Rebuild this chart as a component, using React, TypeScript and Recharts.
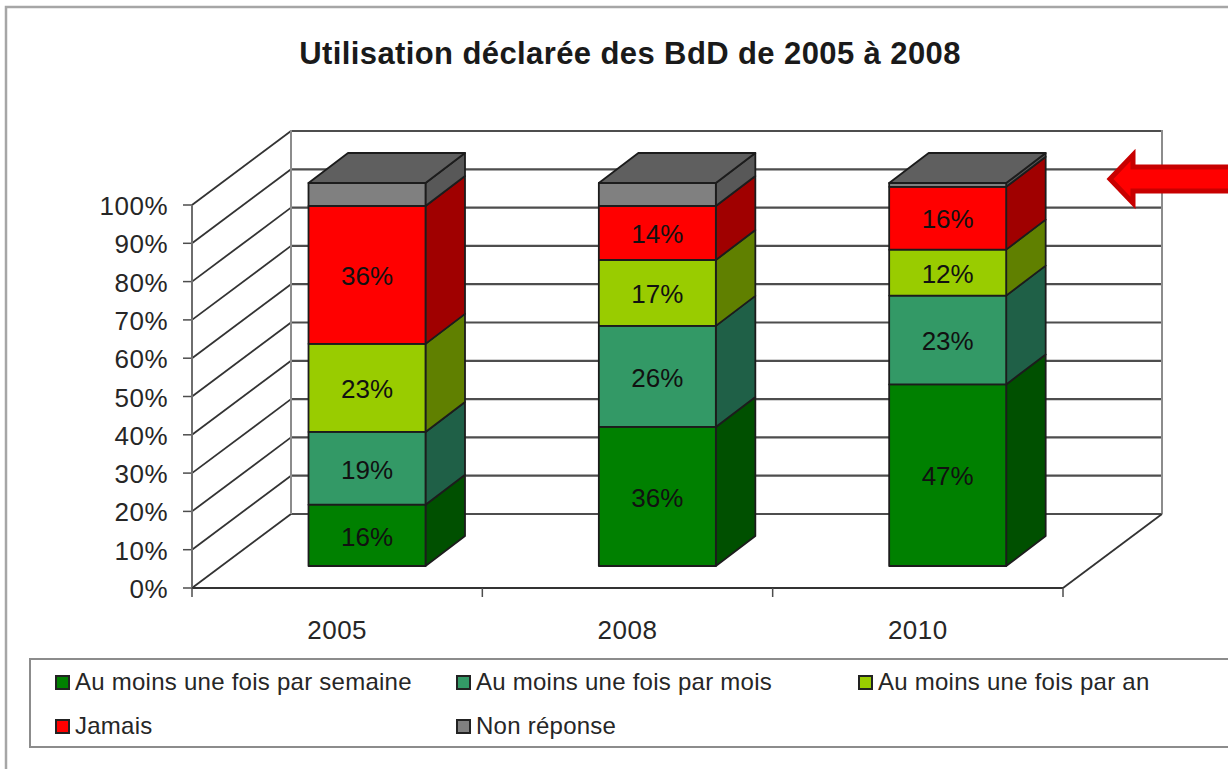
import { BarChart, Bar, XAxis, YAxis, CartesianGrid, Legend, LabelList } from 'recharts';

const years = ['2005', '2008', '2010'];
const weekly = [16, 36.3, 47.4];
const monthly = [19, 26.4, 23.2];
const yearly = [23, 17.2, 12];
const never = [36, 14.1, 16.4];
const noAnswer = [6, 6, 1];
const yTicks = [0, 10, 20, 30, 40, 50, 60, 70, 80, 90, 100];

const chartData = years.map((year, i) => ({
  year,
  weekly: weekly[i],
  monthly: monthly[i],
  yearly: yearly[i],
  never: never[i],
  noAnswer: noAnswer[i],
}));

const FONT = '"Liberation Sans", Arial, sans-serif';
const TEXT = '#262626';
const LINE = '#4d4d4d';

// the plot area is fitted to the bars; the axes and walls sit in front of / behind them
const AXIS_DX = -29.5;
const AXIS_DY = 22;
const WALL_DX = 99;
const WALL_DY = -74;
const BAR_DX = 39.5;
const BAR_DY = -30;
const BAND = 871 / 3;

function Block({ x, y, width, height, fill, side, top }: any) {
  const r = x + width;
  return (
    <g stroke="#1c1c1c" strokeWidth={1.8} strokeLinejoin="round">
      <path
        d={`M${r},${y} L${r + BAR_DX},${y + BAR_DY} L${r + BAR_DX},${y + height + BAR_DY} L${r},${y + height} Z`}
        fill={side}
      />
      {top && (
        <path
          d={`M${x},${y} L${x + BAR_DX},${y + BAR_DY} L${r + BAR_DX},${y + BAR_DY} L${r},${y} Z`}
          fill={top}
        />
      )}
      <rect x={x} y={y} width={width} height={height} fill={fill} />
    </g>
  );
}

function GridLine({ x1, y1, x2 }: any) {
  const left = x1 + AXIS_DX;
  const right = x2 + AXIS_DX;
  const y = y1 + AXIS_DY;
  return (
    <g fill="none">
      <line x1={left} y1={y} x2={left + WALL_DX} y2={y + WALL_DY} stroke="#333" strokeWidth={1.8} />
      <line x1={left + WALL_DX} y1={y + WALL_DY} x2={right + WALL_DX} y2={y + WALL_DY} stroke={LINE} strokeWidth={2.2} />
      <line x1={left - 9} y1={y} x2={left} y2={y} stroke={LINE} strokeWidth={1.5} />
    </g>
  );
}

function YTick({ y, payload }: any) {
  return (
    <text x={168} y={y + AXIS_DY + 10} textAnchor="end" fontSize={26} letterSpacing={0.5} fontFamily={FONT} fill={TEXT}>
      {payload.value}%
    </text>
  );
}

function XTick({ x, payload, index }: any) {
  const cx = x + AXIS_DX;
  const base = 588;
  return (
    <g>
      <line x1={cx - BAND / 2} y1={base} x2={cx - BAND / 2} y2={base + 9} stroke={LINE} strokeWidth={1.5} />
      {index === years.length - 1 && (
        <line x1={cx + BAND / 2} y1={base} x2={cx + BAND / 2} y2={base + 9} stroke={LINE} strokeWidth={1.5} />
      )}
      <text x={cx} y={639} textAnchor="middle" fontSize={26} letterSpacing={0.5} fontFamily={FONT} fill={TEXT}>
        {payload.value}
      </text>
    </g>
  );
}

function Walls() {
  return (
    <g fill="none">
      <path d="M6,770 V7 H1230" stroke="#a6a6a6" strokeWidth={2.5} />
      <line x1={291} y1={130} x2={291} y2={514} stroke="#8c8c8c" strokeWidth={2} />
      <line x1={1162} y1={130} x2={1162} y2={514} stroke="#8c8c8c" strokeWidth={2} />
      <line x1={192} y1={205} x2={192} y2={588} stroke="#6e6e6e" strokeWidth={2} />
      <line x1={192} y1={588} x2={1063} y2={588} stroke="#333" strokeWidth={2.2} />
      <line x1={1063} y1={588} x2={1162} y2={514} stroke="#333" strokeWidth={1.8} />
      <text x={630} y={64} textAnchor="middle" fontSize={31} letterSpacing={0.4} fontWeight="bold" fontFamily={FONT} fill="#1a1a1a">
        Utilisation déclarée des BdD de 2005 à 2008
      </text>
      <path
        d="M1110,179 L1133,155 L1133,167 L1234,167 L1234,191 L1133,191 L1133,203 Z"
        fill="#ff0000"
        stroke="#c80000"
        strokeWidth={5}
      />
    </g>
  );
}

function LegendBox({ payload }: any) {
  return (
    <div
      style={{
        boxSizing: 'border-box',
        width: 1220,
        height: 90,
        border: '2px solid #8c8c8c',
        background: '#fff',
        display: 'grid',
        gridTemplateColumns: '401px 402px 300px',
        gridAutoRows: 44,
        paddingLeft: 24,
        fontFamily: FONT,
        fontSize: 24,
        letterSpacing: 0.25,
        color: TEXT,
      }}
    >
      {(payload || []).map((item: any) => (
        <div key={item.value} style={{ display: 'flex', alignItems: 'center', whiteSpace: 'nowrap' }}>
          <span
            style={{
              boxSizing: 'border-box',
              flexShrink: 0,
              width: 15,
              height: 15,
              marginRight: 5,
              border: '2px solid #222',
              background: item.color,
            }}
          />
          {item.value}
        </div>
      ))}
    </div>
  );
}

const percent = (v: any) => `${Math.round(Number(v))}%`;
const labelProps = { position: 'center' as const, fill: '#111', fontSize: 26, fontFamily: FONT, formatter: percent, dy: 1 };

export default function App() {
  return (
    <div style={{ position: 'absolute', left: 0, top: 0, width: 1228, height: 769, overflow: 'hidden', background: '#fff' }}>
      <BarChart
        width={1228}
        height={769}
        data={chartData}
        margin={{ left: 220.5, right: 135.5, top: 183, bottom: 202 }}
        barSize={117}
      >
        <Walls />
        <CartesianGrid vertical={false} horizontal={(p: any) => <GridLine key={p.key ?? p.y1} {...p} />} />
        <XAxis dataKey="year" height={1} axisLine={false} tickLine={false} tick={<XTick />} interval={0} />
        <YAxis type="number" domain={[0, 100]} ticks={yTicks} width={1} axisLine={false} tickLine={false} tick={<YTick />} interval={0} />
        <Legend
          layout="horizontal"
          verticalAlign="middle"
          itemSorter={null}
          content={<LegendBox />}
          wrapperStyle={{ left: 29, top: 658, width: 1220, height: 90 }}
        />
        <Bar dataKey="weekly" name="Au moins une fois par semaine" stackId="a" fill="#008000" isAnimationActive={false}
          shape={(p: any) => <Block {...p} side="#005000" />}>
          <LabelList {...labelProps} dataKey="weekly" />
        </Bar>
        <Bar dataKey="monthly" name="Au moins une fois par mois" stackId="a" fill="#339966" isAnimationActive={false}
          shape={(p: any) => <Block {...p} side="#1f6047" />}>
          <LabelList {...labelProps} dataKey="monthly" />
        </Bar>
        <Bar dataKey="yearly" name="Au moins une fois par an" stackId="a" fill="#99cc00" isAnimationActive={false}
          shape={(p: any) => <Block {...p} side="#608000" />}>
          <LabelList {...labelProps} dataKey="yearly" />
        </Bar>
        <Bar dataKey="never" name="Jamais" stackId="a" fill="#ff0000" isAnimationActive={false}
          shape={(p: any) => <Block {...p} side="#a00000" />}>
          <LabelList {...labelProps} dataKey="never" />
        </Bar>
        <Bar dataKey="noAnswer" name="Non réponse" stackId="a" fill="#808080" isAnimationActive={false}
          shape={(p: any) => <Block {...p} side="#585858" top="#5f5f5f" />} />
      </BarChart>
    </div>
  );
}
